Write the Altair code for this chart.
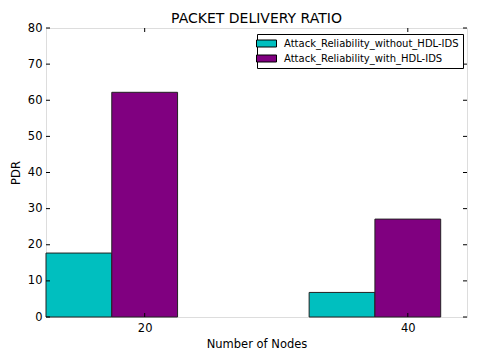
import altair as alt
import pandas as pd

nodes = ["20", "40"]
series = ["Attack_Reliability_without_HDL-IDS", "Attack_Reliability_with_HDL-IDS"]
without_ids = [17.7, 6.8]
with_ids = [62.2, 27.1]
colors = ["#00bfbf", "#800080"]
yticks = [0, 10, 20, 30, 40, 50, 60, 70, 80]

BAR_W = 0.25
W, H = 421, 289
FONT = "DejaVu Sans"

rows = []
for gi, n in enumerate(nodes):
    for si, (s, vals) in enumerate(zip(series, [without_ids, with_ids])):
        rows.append({"nodes": n, "group": gi, "sidx": si, "series": s, "value": vals[gi]})
df = pd.DataFrame(rows)

xticks = [gi + 1.5 * BAR_W for gi in range(len(nodes))]
label_expr = "[" + ",".join(f"'{n}'" for n in nodes) + f"][round(datum.value - {1.5 * BAR_W})]"

xscale = alt.Scale(domain=[0, len(nodes) - 1 + 0.6], nice=False, zero=False)
yscale = alt.Scale(domain=[0, 80], nice=False)

xaxis = alt.Axis(values=xticks, labelExpr=label_expr, title="Number of Nodes",
                 ticks=False, domain=False, grid=False, labelPadding=5,
                 labelFontSize=11.5, titleFontSize=11.5, titleFontWeight="normal",
                 titlePadding=5, labelFont=FONT, titleFont=FONT,
                 labelColor="#000", titleColor="#000")
yaxis = alt.Axis(values=yticks, title="PDR", ticks=False, domain=False, grid=False,
                 labelOverlap=False, labelPadding=4, labelFontSize=11.5,
                 titleFontSize=11.5, titleFontWeight="normal", titlePadding=6,
                 labelFont=FONT, titleFont=FONT, labelColor="#000", titleColor="#000")

bars = alt.Chart(df).transform_calculate(
    x0=f"datum.group + datum.sidx * {BAR_W}",
    x1=f"datum.group + (datum.sidx + 1) * {BAR_W}",
).mark_bar(stroke="#222", strokeWidth=1).encode(
    x=alt.X("x0:Q", scale=xscale, axis=xaxis),
    x2="x1:Q",
    y=alt.Y("value:Q", scale=yscale, axis=yaxis),
    y2=alt.datum(0),
    color=alt.Color("series:N", sort=series,
                    scale=alt.Scale(domain=series, range=colors),
                    legend=alt.Legend(title=None, orient="none", legendX=211, legendY=6,
                                      strokeColor="#000", fillColor="#fff", padding=4,
                                      cornerRadius=0, labelFontSize=10, labelFont=FONT,
                                      labelColor="#000", labelLimit=400,
                                      symbolType="M-2,-0.7H2V0.7H-2Z", symbolSize=100,
                                      symbolStrokeColor="#000", symbolStrokeWidth=1,
                                      symbolOpacity=1, rowPadding=4, labelOffset=12)),
)

ydf = pd.DataFrame({"v": yticks})
xdf = pd.DataFrame({"v": xticks})

left_ticks = alt.Chart(ydf).mark_rule(color="#000", strokeWidth=1).encode(
    y=alt.Y("v:Q", scale=yscale, axis=yaxis), x=alt.value(0), x2=alt.value(4))
right_ticks = alt.Chart(ydf).mark_rule(color="#000", strokeWidth=1).encode(
    y=alt.Y("v:Q", scale=yscale, axis=yaxis), x=alt.value(W - 4), x2=alt.value(W))
bottom_ticks = alt.Chart(xdf).mark_rule(color="#000", strokeWidth=1).encode(
    x=alt.X("v:Q", scale=xscale, axis=xaxis), y=alt.value(H), y2=alt.value(H - 4))
top_ticks = alt.Chart(xdf).mark_rule(color="#000", strokeWidth=1).encode(
    x=alt.X("v:Q", scale=xscale, axis=xaxis), y=alt.value(0), y2=alt.value(4))

chart = alt.layer(bars, left_ticks, right_ticks, bottom_ticks, top_ticks).properties(
    width=W, height=H,
    title=alt.Title("PACKET DELIVERY RATIO", fontSize=14, font=FONT, fontWeight="normal",
                    color="#000", offset=-4, anchor="middle"),
    autosize=alt.AutoSizeParams(type="none"),
    padding={"left": 38, "top": 20, "right": 4, "bottom": 40},
).configure_view(stroke="#000", strokeWidth=1).configure(background="#fff")

chart.save("out.html", embed_options={"renderer": "svg", "actions": False})
